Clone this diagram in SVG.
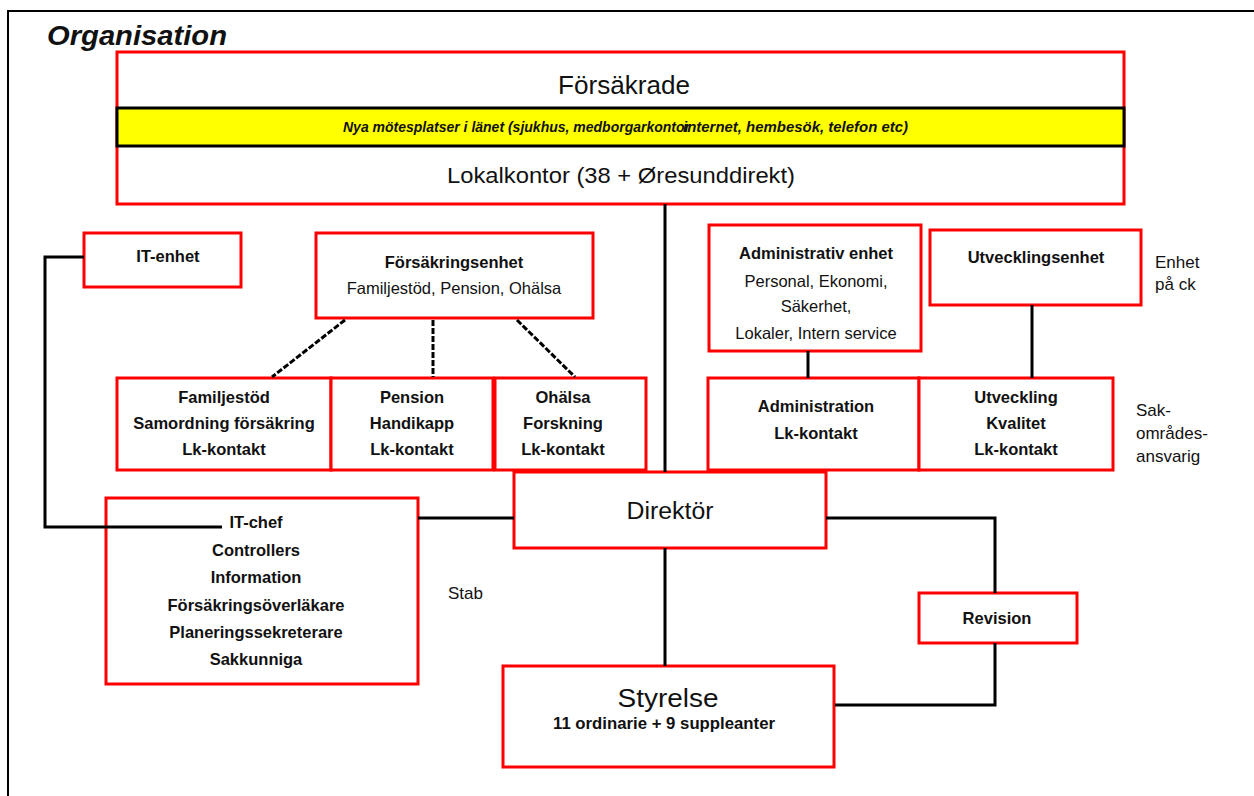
<svg xmlns="http://www.w3.org/2000/svg" width="1254" height="796" viewBox="0 0 1254 796">
<style>
.box{fill:#fff;stroke:#f00;stroke-width:3}
.ln{stroke:#000;stroke-width:3;fill:none}
.t{font-family:"Liberation Sans",Arial,sans-serif;fill:#111;text-anchor:middle}
.b{font-weight:bold;font-size:16.5px}
.r{font-size:16.5px}
.lbl{font-family:"Liberation Sans",Arial,sans-serif;fill:#111;font-size:17px}
.it{font-family:"Liberation Sans",Arial,sans-serif;font-size:14px;font-style:italic;font-weight:bold;fill:#111}
</style>
<rect width="1254" height="796" fill="#fff"/>
<path d="M8 796 V11 H1254" stroke="#000" stroke-width="2" fill="none"/>
<text x="47" y="45" font-family="Liberation Sans,Arial,sans-serif" font-size="27" font-style="italic" font-weight="bold" fill="#111" textLength="180" lengthAdjust="spacingAndGlyphs">Organisation</text>

<g id="forsakrade">
<rect class="box" x="117" y="52" width="1007" height="152"/>
<text class="t" x="624" y="94" font-size="25" textLength="132" lengthAdjust="spacingAndGlyphs">Försäkrade</text>
</g>
<g id="motesplatser">
<rect x="117" y="108" width="1007" height="38" fill="#ff0" stroke="#000" stroke-width="3"/>
<text class="it" x="343" y="132" textLength="347" lengthAdjust="spacingAndGlyphs">Nya mötesplatser i länet (sjukhus, medborgarkontor</text>
<text class="it" x="683" y="132" textLength="225" lengthAdjust="spacingAndGlyphs">internet, hembesök, telefon etc)</text>
</g>
<g id="lokalkontor">
<text class="t" x="621" y="183" font-size="22" textLength="348" lengthAdjust="spacingAndGlyphs">Lokalkontor (38 + Øresunddirekt)</text>
</g>

<g id="it-enhet">
<rect class="box" x="84" y="233" width="157" height="54"/>
<text class="t b" x="168" y="262">IT-enhet</text>
</g>
<g id="forsakringsenhet">
<rect class="box" x="316" y="233" width="277" height="85"/>
<text class="t b" x="454" y="268">Försäkringsenhet</text>
<text class="t r" x="454" y="294">Familjestöd, Pension, Ohälsa</text>
</g>
<g id="familjestod">
<rect class="box" x="117" y="378" width="214" height="92"/>
<text class="t b" x="224" y="403">Familjestöd</text>
<text class="t b" x="224" y="429">Samordning försäkring</text>
<text class="t b" x="224" y="455">Lk-kontakt</text>
</g>
<g id="pension">
<rect class="box" x="331" y="378" width="162" height="92"/>
<text class="t b" x="412" y="403">Pension</text>
<text class="t b" x="412" y="429">Handikapp</text>
<text class="t b" x="412" y="455">Lk-kontakt</text>
</g>
<g id="ohalsa">
<rect class="box" x="495" y="378" width="151" height="92"/>
<text class="t b" x="563" y="403">Ohälsa</text>
<text class="t b" x="563" y="429">Forskning</text>
<text class="t b" x="563" y="455">Lk-kontakt</text>
</g>
<g id="administrativ-enhet">
<rect class="box" x="709" y="225" width="212" height="126"/>
<text class="t b" x="816" y="259">Administrativ enhet</text>
<text class="t r" x="816" y="287">Personal, Ekonomi,</text>
<text class="t r" x="816" y="312">Säkerhet,</text>
<text class="t r" x="816" y="339">Lokaler, Intern service</text>
</g>
<g id="utvecklingsenhet">
<rect class="box" x="930" y="230" width="211" height="75"/>
<text class="t b" x="1036" y="263">Utvecklingsenhet</text>
</g>
<text class="lbl" x="1155" y="268">Enhet</text>
<text class="lbl" x="1155" y="290">på ck</text>
<g id="administration">
<rect class="box" x="708" y="378" width="211" height="92"/>
<text class="t b" x="816" y="412">Administration</text>
<text class="t b" x="816" y="439">Lk-kontakt</text>
</g>
<g id="utveckling">
<rect class="box" x="919" y="378" width="194" height="92"/>
<text class="t b" x="1016" y="403">Utveckling</text>
<text class="t b" x="1016" y="429">Kvalitet</text>
<text class="t b" x="1016" y="455">Lk-kontakt</text>
</g>
<text class="lbl" x="1136" y="416">Sak-</text>
<text class="lbl" x="1136" y="439">områdes-</text>
<text class="lbl" x="1136" y="462">ansvarig</text>

<g id="direktor">
<rect class="box" x="514" y="472" width="312" height="76"/>
<text class="t" x="670" y="519" font-size="23" textLength="87" lengthAdjust="spacingAndGlyphs">Direktör</text>
</g>
<g id="stab">
<rect class="box" x="106" y="498" width="312" height="186" fill="none"/>
<text class="t b" x="256" y="528">IT-chef</text>
<text class="t b" x="256" y="556">Controllers</text>
<text class="t b" x="256" y="583">Information</text>
<text class="t b" x="256" y="611">Försäkringsöverläkare</text>
<text class="t b" x="256" y="638">Planeringssekreterare</text>
<text class="t b" x="256" y="665">Sakkunniga</text>
</g>
<text class="lbl" x="448" y="599">Stab</text>
<g id="revision">
<rect class="box" x="919" y="593" width="158" height="50"/>
<text class="t b" x="997" y="624">Revision</text>
</g>
<g id="styrelse">
<rect class="box" x="503" y="666" width="331" height="101" stroke-width="4"/>
<text class="t" x="668" y="707" font-size="25" textLength="101" lengthAdjust="spacingAndGlyphs">Styrelse</text>
<text class="t b" x="664" y="729" font-size="15" textLength="222" lengthAdjust="spacingAndGlyphs">11 ordinarie  + 9 suppleanter</text>
</g>

<g id="connectors">
<path class="ln" d="M665 204 V472" stroke-width="4"/>
<path class="ln" d="M84 257 H45 V527 H222"/>
<path class="ln" d="M345 320 L272 377 M433 320 V377 M517 320 L575 377" stroke-dasharray="6 2"/>
<path class="ln" d="M418 518 H514"/>
<path class="ln" d="M826 518 H995 V593"/>
<path class="ln" d="M995 643 V705 H835"/>
<path class="ln" d="M665 548 V666" stroke-width="4"/>
<path class="ln" d="M808 351 V378"/>
<path class="ln" d="M1032 305 V378"/>
</g>
</svg>
